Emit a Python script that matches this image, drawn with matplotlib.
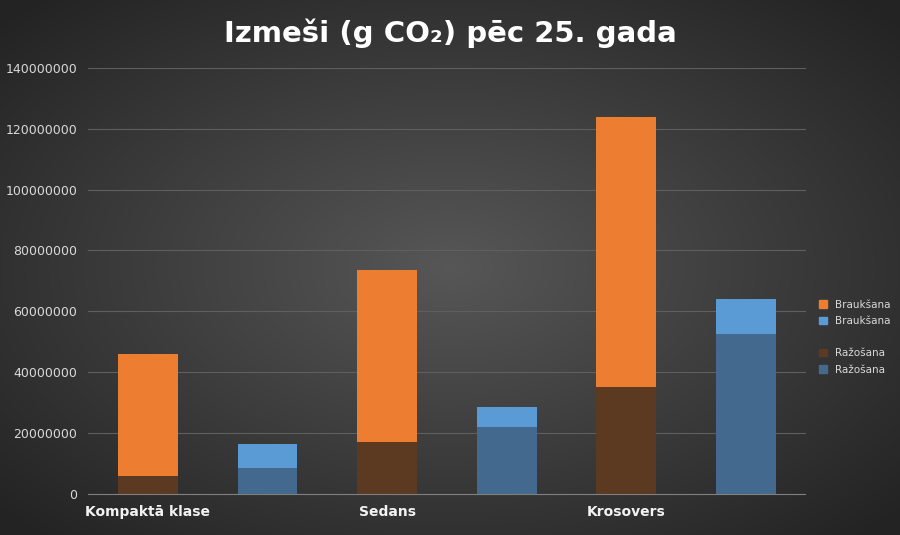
import numpy as np
import matplotlib
matplotlib.use("Agg")
import matplotlib.pyplot as plt
from matplotlib.patches import Patch

categories = ["Kompaktā klase", "Sedans", "Krosovers"]
# petrol (orange) and electric (blue) variants
prod_a = [6.0e6, 17.0e6, 35.0e6]
drive_a = [40.0e6, 56.5e6, 88.8e6]
prod_b = [8.5e6, 21.8e6, 52.4e6]
drive_b = [7.8e6, 6.6e6, 11.5e6]
yticks = [0, 20000000, 40000000, 60000000, 80000000, 100000000, 120000000, 140000000]

fig = plt.figure(figsize=(9, 5.35), dpi=100)

# radial gradient background
bg = fig.add_axes([0, 0, 1, 1], zorder=-1)
yy, xx = np.mgrid[-1:1:300j, -1:1:500j]
r = np.sqrt(xx**2 + yy**2)
g = 0.34 - 0.2 * np.clip(r / 1.35, 0, 1)
bg.imshow(np.dstack([g, g, g]), aspect="auto", extent=[0, 1, 0, 1])
bg.axis("off")

ax = fig.add_axes([0.098, 0.077, 0.797, 0.796])
ax.patch.set_alpha(0)
xa = np.arange(3) * 2
xb = xa + 1
w = 0.5
ax.bar(xa, prod_a, w, color="#5c3a21", zorder=2)
ax.bar(xa, drive_a, w, bottom=prod_a, color="#ed7d31", zorder=2)
ax.bar(xb, prod_b, w, color="#43698f", zorder=2)
ax.bar(xb, drive_b, w, bottom=prod_b, color="#5b9bd5", zorder=2)

ax.set_xlim(-0.5, 5.5)
ax.set_ylim(0, 140000000)
ax.set_yticks(yticks)
ax.set_yticklabels([str(v) for v in yticks], color="#d9d9d9", fontsize=9)
ax.set_xticks(xa)
ax.set_xticklabels(categories, color="#f2f2f2", fontsize=10, fontweight="bold")
ax.tick_params(length=0, pad=8)
ax.grid(axis="y", color="#5f5f5f", linewidth=0.8, zorder=0)
for s in ["top", "right", "left"]:
    ax.spines[s].set_visible(False)
ax.spines["bottom"].set_color("#7f7f7f")

fig.suptitle("Izmeši (g CO₂) pēc 25. gada", color="white", fontsize=21,
             fontweight="bold", y=0.965)

handles = [Patch(color="#ed7d31"), Patch(color="#5b9bd5"), Patch(color="none"),
           Patch(color="#5c3a21"), Patch(color="#43698f")]
labels = ["Braukšana", "Braukšana", "", "Ražošana", "Ražošana"]
leg = fig.legend(handles, labels, loc="center left", bbox_to_anchor=(0.9, 0.37),
                 frameon=False, fontsize=7.5, handlelength=0.7, handleheight=0.7,
                 labelspacing=0.6)
for t in leg.get_texts():
    t.set_color("#d9d9d9")

fig.savefig("out.png", dpi=100)
